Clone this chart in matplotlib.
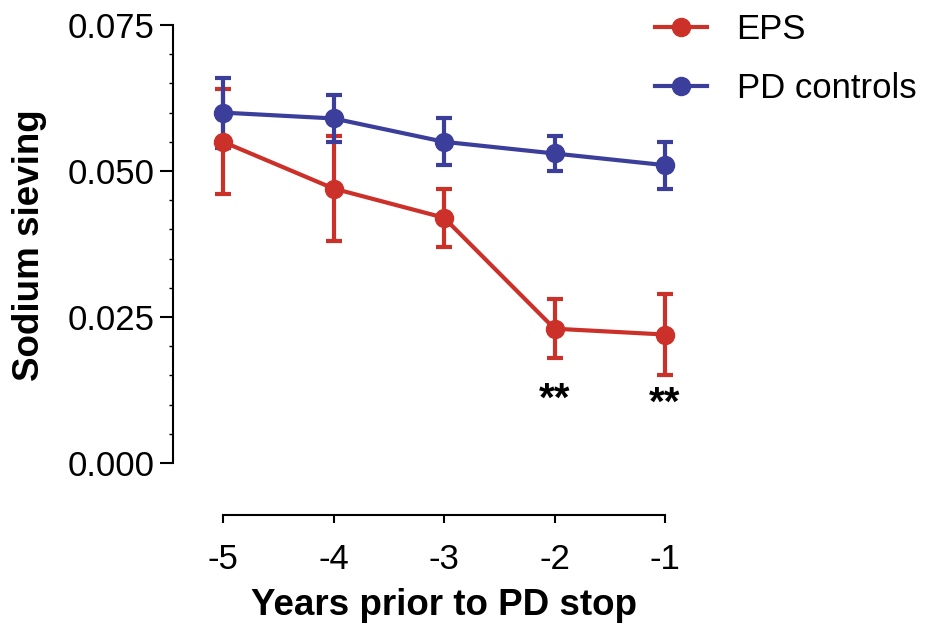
import matplotlib
matplotlib.use("Agg")
import matplotlib.pyplot as plt
from matplotlib.ticker import FixedLocator
import numpy as np

plt.rcParams['font.family'] = ['Liberation Sans', 'DejaVu Sans']

years = [-5, -4, -3, -2, -1]
eps_mean = [0.055, 0.047, 0.042, 0.023, 0.022]
eps_err = [0.009, 0.009, 0.005, 0.005, 0.007]
pd_mean = [0.060, 0.059, 0.055, 0.053, 0.051]
pd_err = [0.006, 0.004, 0.004, 0.003, 0.004]
sig_x = [-2, -1]
sig_y = [0.0108, 0.0102]
sig_labels = ["**", "**"]
yticks = [0.000, 0.025, 0.050, 0.075]
ytick_labels = ["0.000", "0.025", "0.050", "0.075"]

RED = '#CC3129'
BLUE = '#3B3E9A'
FS_TICK = 25
FS_LAB = 26.5

W, H = 935, 624
fig = plt.figure(figsize=(W / 100, H / 100), dpi=100)
ax = fig.add_axes([173 / W, (H - 515) / H, (665 - 173) / W, (515 - 25) / H])
ax.patch.set_alpha(0)

for mean, err, col, lab in [(eps_mean, eps_err, RED, 'EPS'), (pd_mean, pd_err, BLUE, 'PD controls')]:
    ax.errorbar(years, mean, yerr=err, color=col, lw=3, elinewidth=3, capsize=5.5,
                capthick=3, marker='o', markersize=13, clip_on=False, zorder=3)
    ax.plot([], [], color=col, lw=3, marker='o', markersize=13, label=lab)

for x, y, s in zip(sig_x, sig_y, sig_labels):
    ax.text(x, y, s, ha='center', va='center', fontsize=29, fontweight='bold', color='black')

ax.set_xlim(-5.4525, -1)
ax.set_ylim(-0.0089, 0.075)
ax.spines['top'].set_visible(False)
ax.spines['right'].set_visible(False)
ax.spines['left'].set_bounds(0, 0.075)
ax.spines['bottom'].set_bounds(-5, -1)
for sp in ['left', 'bottom']:
    ax.spines[sp].set_linewidth(1.5)

ax.set_xticks(years)
ax.set_xticklabels([str(y) for y in years])
ax.set_yticks(yticks)
ax.set_yticklabels(ytick_labels)
minor = [v for v in np.arange(0, 0.0751, 0.005) if all(abs(v - t) > 1e-9 for t in yticks)]
ax.yaxis.set_minor_locator(FixedLocator(minor))
ax.tick_params(axis='y', which='major', length=9.5, width=1.5, labelsize=FS_TICK, pad=4)
ax.tick_params(axis='y', which='minor', length=3, width=1.0)
ax.tick_params(axis='x', which='major', length=6, width=1.5, labelsize=FS_TICK, pad=14)

ax.set_xlabel('Years prior to PD stop', fontsize=FS_LAB, fontweight='bold')
ax.set_ylabel('Sodium sieving', fontsize=FS_LAB, fontweight='bold')
ax.xaxis.set_label_coords((444 - 173) / 492, -(588 - 515) / 490)
ax.yaxis.set_label_coords(-(173 - 47) / 492, (515 - 245) / 490)

leg = ax.legend(loc='upper left', bbox_to_anchor=(655 / W, 1 - 13 / H),
                bbox_transform=fig.transFigure, frameon=False, fontsize=FS_TICK,
                handlelength=1.5, handletextpad=0.85, labelspacing=0.75, borderpad=0,
                borderaxespad=0)

fig.savefig('out.png', dpi=100)
